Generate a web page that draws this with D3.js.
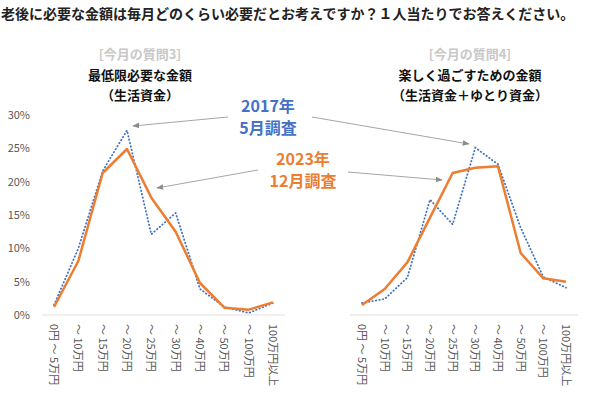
<!DOCTYPE html>
<html>
<head>
<meta charset="utf-8">
<script src="https://cdn.jsdelivr.net/npm/d3@7"></script>
<style>
  body { margin: 0; background: #fff; }
  svg { font-family: "Noto Sans CJK JP", sans-serif; }
</style>
</head>
<body>
<script>
// カテゴリ（月額）
const categories = ["0円 ～ 5万円", "～ 10万円", "～ 15万円", "～ 20万円", "～ 25万円",
                    "～ 30万円", "～ 40万円", "～ 50万円", "～ 100万円", "100万円以上"];
// 質問3：最低限必要な金額（%）
const q3_2017 = [1.5, 10.0, 21.6, 27.7, 12.1, 15.3, 3.9, 1.2, 0.3, 1.8];
const q3_2023 = [1.2, 8.1, 21.3, 24.9, 17.6, 12.5, 4.8, 1.1, 0.8, 1.9];
// 質問4：楽しく過ごすための金額（%）
const q4_2017 = [1.8, 2.4, 5.6, 17.3, 13.6, 25.1, 22.6, 13.1, 5.7, 4.1];
const q4_2023 = [1.5, 3.9, 7.9, 14.6, 21.3, 22.1, 22.3, 9.3, 5.5, 5.0];
const yTicks = [0, 5, 10, 15, 20, 25, 30];

const blue = "#4472c4", orange = "#ed7d31";

const svg = d3.select("body").append("svg")
    .attr("width", 600)
    .attr("height", 394);

svg.append("defs").append("marker")
    .attr("id", "arrow")
    .attr("viewBox", "0 0 10 10")
    .attr("refX", 9).attr("refY", 5)
    .attr("markerWidth", 7).attr("markerHeight", 7)
    .attr("orient", "auto")
    .append("path")
    .attr("d", "M0,1 L10,5 L0,9 Z")
    .attr("fill", "#8c8c8c");

// タイトル
svg.append("text")
    .attr("x", 1).attr("y", 19)
    .attr("font-size", 14).attr("font-weight", "bold")
    .attr("fill", "#222")
    .text("老後に必要な金額は毎月どのくらい必要だとお考えですか？１人当たりでお答えください。");

const y = d3.scaleLinear().domain([0, 30]).range([315, 115]);

// Y軸（左パネルのみ）
const yAxis = svg.append("g")
    .attr("transform", "translate(33,0)")
    .call(d3.axisLeft(y).tickValues(yTicks).tickSize(0).tickFormat(d => d + "%"));
yAxis.select(".domain").remove();
yAxis.selectAll("text").attr("font-size", 11).attr("fill", "#595959")
    .attr("font-family", "Noto Sans CJK JP");

const panels = [
    {cx: 140, range: [54, 273], axis: [42, 285], q: "[今月の質問3]",
     t1: "最低限必要な金額", t2: "（生活資金）", d17: q3_2017, d23: q3_2023},
    {cx: 470, range: [362, 566], axis: [350, 578], q: "[今月の質問4]",
     t1: "楽しく過ごすための金額", t2: "（生活資金＋ゆとり資金）", d17: q4_2017, d23: q4_2023}
];

panels.forEach(function (p) {
    const x = d3.scalePoint().domain(categories).range(p.range);

    svg.append("text").attr("x", p.cx).attr("y", 59)
        .attr("text-anchor", "middle").attr("font-size", 13)
        .attr("font-weight", "bold").attr("fill", "#c8c8c8").text(p.q);
    svg.append("text").attr("x", p.cx).attr("y", 80)
        .attr("text-anchor", "middle").attr("font-size", 13)
        .attr("font-weight", "bold").attr("fill", "#111").text(p.t1);
    svg.append("text").attr("x", p.cx).attr("y", 100)
        .attr("text-anchor", "middle").attr("font-size", 13)
        .attr("font-weight", "bold").attr("fill", "#111").text(p.t2);

    // 基線
    svg.append("line")
        .attr("x1", p.axis[0]).attr("x2", p.axis[1])
        .attr("y1", y(0)).attr("y2", y(0))
        .style("stroke", "#e0e0e0").style("stroke-width", 1);

    // X軸ラベル（縦書き）
    svg.selectAll(null)
        .data(categories)
        .enter()
        .append("text")
        .attr("transform", d => "translate(" + x(d) + ",324) rotate(90)")
        .attr("dy", "0.35em")
        .attr("font-size", 11)
        .attr("fill", "#595959")
        .text(d => d);

    const line = d3.line()
        .x((d, i) => x(categories[i]))
        .y(d => y(d));

    svg.append("path")
        .datum(p.d17)
        .attr("d", line)
        .attr("fill", "none")
        .style("stroke", blue)
        .style("stroke-width", 1.8)
        .style("stroke-dasharray", "0.5,3")
        .style("stroke-linecap", "round");

    svg.append("path")
        .datum(p.d23)
        .attr("d", line)
        .attr("fill", "none")
        .style("stroke", orange)
        .style("stroke-width", 2.5)
        .style("stroke-linejoin", "round");
});

// 注釈
const arrows = [
    [228, 117, 133, 126],
    [312, 117, 469, 144],
    [258, 170, 157, 188],
    [348, 172, 442, 180]
];
svg.selectAll(".arw")
    .data(arrows)
    .enter()
    .append("line")
    .attr("x1", d => d[0]).attr("y1", d => d[1])
    .attr("x2", d => d[2]).attr("y2", d => d[3])
    .style("stroke", "#a6a6a6").style("stroke-width", 1)
    .attr("marker-end", "url(#arrow)");

const notes = [
    {x: 268, y: 112, t: "2017年", c: blue},
    {x: 268, y: 134, t: "5月調査", c: blue},
    {x: 303, y: 165, t: "2023年", c: orange},
    {x: 303, y: 187, t: "12月調査", c: orange}
];
svg.selectAll(".note")
    .data(notes)
    .enter()
    .append("text")
    .attr("x", d => d.x).attr("y", d => d.y)
    .attr("text-anchor", "middle")
    .attr("font-size", 16).attr("font-weight", "bold")
    .attr("fill", d => d.c)
    .text(d => d.t);
</script>
</body>
</html>
